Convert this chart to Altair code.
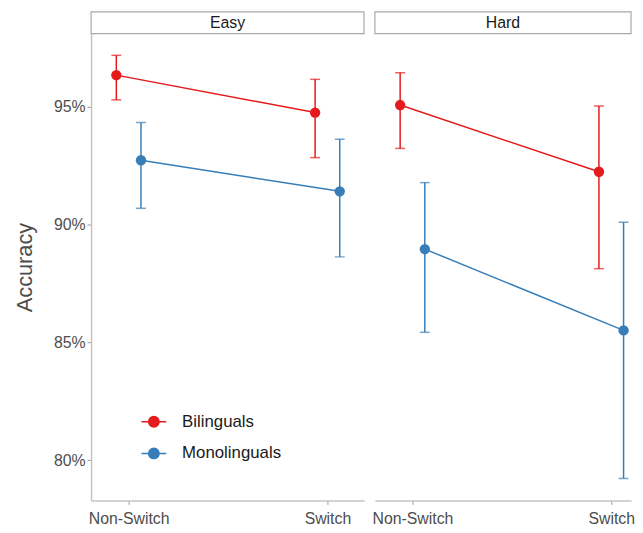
import json
import altair as alt
import pandas as pd

# ---- data ----
panels = ["Easy", "Hard"]
conditions = ["Non-Switch", "Switch"]
groups = ["Bilinguals", "Monolinguals"]
colors = ["#E41A1C", "#377EB8"]
y_ticks = [80, 85, 90, 95]

difficulty = ["Easy", "Easy", "Easy", "Easy", "Hard", "Hard", "Hard", "Hard"]
condition = ["Non-Switch", "Switch", "Non-Switch", "Switch",
             "Non-Switch", "Switch", "Non-Switch", "Switch"]
group = ["Bilinguals", "Bilinguals", "Monolinguals", "Monolinguals",
         "Bilinguals", "Bilinguals", "Monolinguals", "Monolinguals"]
accuracy = [96.34, 94.75, 92.73, 91.41, 95.07, 92.24, 88.96, 85.51]
ci_low = [95.29, 92.84, 90.69, 88.63, 93.23, 88.13, 85.43, 79.23]
ci_high = [97.18, 96.16, 94.33, 93.62, 96.44, 95.03, 91.78, 90.10]

df = pd.DataFrame(dict(difficulty=difficulty, condition=condition, group=group,
                       accuracy=accuracy, ci_low=ci_low, ci_high=ci_high))

H = 472
FONT = "Liberation Sans"
LABEL_GRAY = "#4d4d4d"
AXIS_GRAY = "#c4c4c4"
DODGE = 0.062
X_MIN = -0.189
STEP_PX = 201.0
# horizontal line with a disc built from concentric rings
_rings = "".join(
    f"M{-r},0A{r},{r},0,1,1,{r},0A{r},{r},0,1,1,{-r},0Z"
    for r in (0.42, 0.35, 0.28, 0.21, 0.14, 0.07)
)
LEGEND_SYMBOL = "M-1,0H1" + _rings


def panel(name, width, show_y, show_legend):
    base = alt.Chart(df).transform_filter(
        alt.datum.difficulty == name
    ).transform_calculate(
        pos=f"indexof({json.dumps(conditions)}, datum.condition) + "
            f"(datum.group == '{groups[0]}' ? {-DODGE} : {DODGE})"
    )
    x_max = X_MIN + width / STEP_PX
    x = alt.X("pos:Q",
              scale=alt.Scale(domain=[X_MIN, x_max], nice=False, zero=False),
              axis=alt.Axis(values=[0, 1],
                            labelExpr=f"datum.value < 0.5 ? '{conditions[0]}' : '{conditions[1]}'",
                            title=None, grid=False, labelFontSize=16, labelFont=FONT,
                            labelColor=LABEL_GRAY, labelPadding=6, tickSize=4,
                            domainColor=AXIS_GRAY, domainWidth=1.5, tickColor="#9a9a9a"))
    if show_y:
        yaxis = alt.Axis(values=y_ticks, labelExpr="datum.value + '%'", title="Accuracy",
                         titleFontSize=22, titleFont=FONT, titleFontWeight="normal",
                         titleColor=LABEL_GRAY, titlePadding=17, grid=False,
                         labelFontSize=16, labelFont=FONT, labelColor=LABEL_GRAY,
                         labelPadding=2, tickSize=4, domainColor=AXIS_GRAY,
                         domainWidth=1.5, tickColor="#9a9a9a")
    else:
        yaxis = None
    yscale = alt.Scale(domain=[78.3, 98.1], nice=False, zero=False)
    y = alt.Y("accuracy:Q", scale=yscale, axis=yaxis)
    y_lo = alt.Y("ci_low:Q", scale=yscale, axis=yaxis)
    y_hi = alt.Y("ci_high:Q", scale=yscale, axis=yaxis)
    cscale = alt.Scale(domain=groups, range=colors)
    if show_legend:
        leg = alt.Legend(title=None, orient="none", legendX=50, legendY=379,
                         symbolType=LEGEND_SYMBOL, symbolSize=625, symbolStrokeWidth=1.5,
                         symbolOpacity=1,
                         labelFontSize=17, labelFont=FONT, labelColor="#1a1a1a",
                         labelOffset=15, rowPadding=10)
    else:
        leg = None
    color = alt.Color("group:N", scale=cscale, legend=leg)

    lines = base.mark_line(strokeWidth=1.5).encode(x=x, y=y, color=color)
    rules = base.mark_rule(strokeWidth=1.5).encode(x=x, y=y_lo, y2="ci_high:Q", color=color)
    tick_lo = base.mark_tick(orient="horizontal", size=10, thickness=1.5).encode(
        x=x, y=y_lo, color=color)
    tick_hi = base.mark_tick(orient="horizontal", size=10, thickness=1.5).encode(
        x=x, y=y_hi, color=color)
    points = base.mark_point(filled=True, size=110, opacity=1).encode(x=x, y=y, color=color)

    strip_data = alt.Data(values=[{"label": name}])
    strip_box = alt.Chart(strip_data).mark_rect(fill="white", stroke="#a8a8a8", strokeWidth=1.2).encode(
        x=alt.value(0), x2=alt.value(width), y=alt.value(-22), y2=alt.value(0))
    strip_text = alt.Chart(strip_data).mark_text(font=FONT, fontSize=16, color="#1a1a1a").encode(
        x=alt.value(width / 2), y=alt.value(-11), text="label:N")

    return alt.layer(lines, rules, tick_lo, tick_hi, points, strip_box, strip_text).properties(
        width=width, height=H)


chart = alt.hconcat(
    panel(panels[0], 276, True, True),
    panel(panels[1], 259, False, False),
    spacing=7,
).properties(
    padding={"left": 5, "top": 0, "right": 0, "bottom": 0}
).configure_view(stroke=None)

chart.save("out.html", embed_options={"renderer": "svg", "actions": False})
